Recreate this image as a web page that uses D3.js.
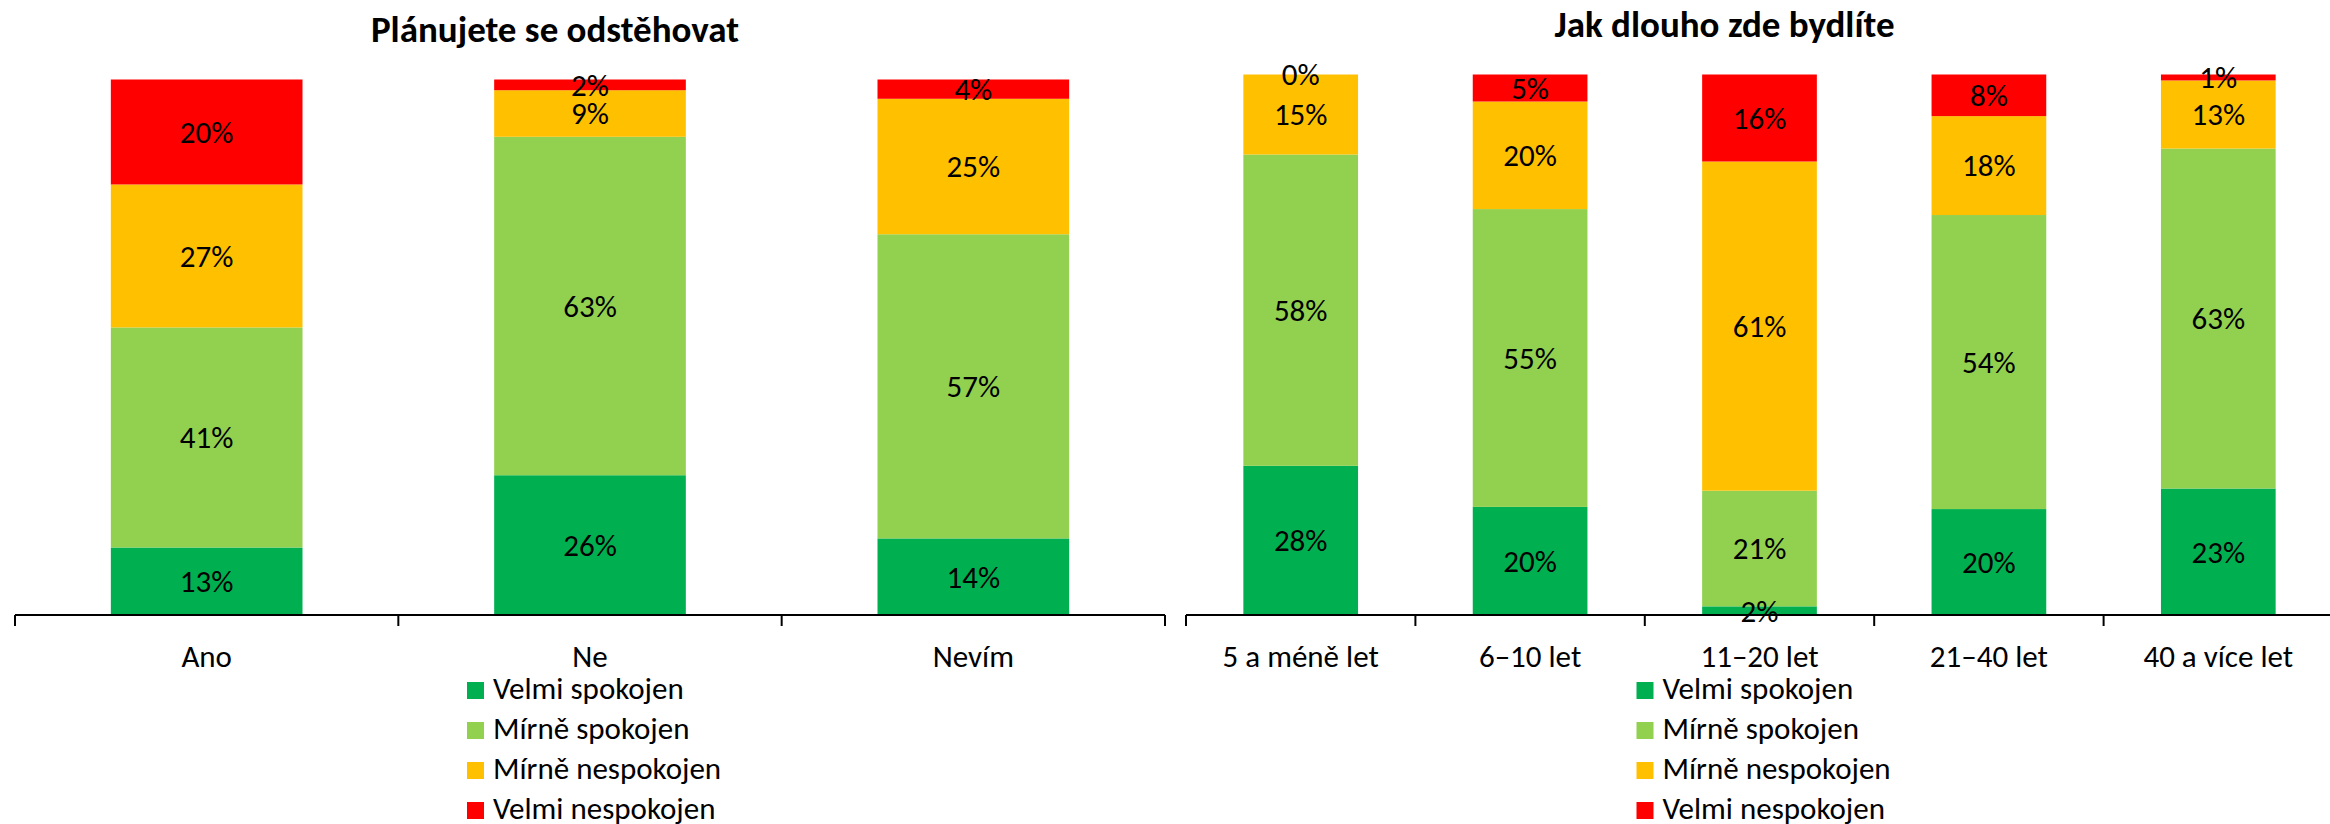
<!DOCTYPE html>
<html>
<head>
<meta charset="utf-8">
<script src="https://cdn.jsdelivr.net/npm/d3@7"></script>
<style>
  html, body { margin: 0; padding: 0; background: #ffffff; }
  svg { display: block; }
  text { font-family: Carlito, Calibri, Lato, "Open Sans", sans-serif; fill: #000; }
</style>
</head>
<body>
<svg id="chart" width="2330" height="824"></svg>
<script>
// ---------- data ----------
const seriesNames = ["Velmi spokojen", "Mírně spokojen", "Mírně nespokojen", "Velmi nespokojen"];
const seriesColors = ["#00B050", "#92D050", "#FFC000", "#FF0000"];

const titleA = "Plánujete se odstěhovat";
const categoriesA = ["Ano", "Ne", "Nevím"];
const velmiSpokojenA   = [12.6, 26.1, 14.3];
const mirneSpokojenA   = [41.1, 63.2, 56.8];
const mirneNespokojenA = [26.7, 8.7, 25.3];
const velmiNespokojenA = [19.6, 2.0, 3.6];

const titleB = "Jak dlouho zde bydlíte";
const categoriesB = ["5 a méně let", "6–10 let", "11–20 let", "21–40 let", "40 a více let"];
const velmiSpokojenB   = [27.6, 20.0, 1.6, 19.6, 23.4];
const mirneSpokojenB   = [57.6, 55.1, 21.4, 54.4, 62.9];
const mirneNespokojenB = [14.8, 19.9, 60.9, 18.3, 12.6];
const velmiNespokojenB = [0.0, 5.0, 16.1, 7.7, 1.1];

// ---------- drawing ----------
const svg = d3.select("#chart");
const FONT = 31;

function drawPanel(cfg) {
  const { title, categories, series, x0, x1, top, bottom } = cfg;
  const g = svg.append("g");

  const rows = categories.map((c, i) => {
    const r = { cat: c };
    seriesNames.forEach((s, k) => r[s] = series[k][i]);
    return r;
  });
  const stacked = d3.stack().keys(seriesNames)(rows);

  const x = d3.scaleBand().domain(categories).range([x0, x1])
    .paddingInner(0.5).paddingOuter(0.25);
  const y = d3.scaleLinear().domain([0, 100]).range([bottom, top]);

  // bars
  const layer = g.selectAll("g.layer").data(stacked).join("g")
    .attr("class", "layer")
    .attr("fill", (d, i) => seriesColors[i]);
  layer.selectAll("rect").data(d => d).join("rect")
    .attr("x", d => x(d.data.cat))
    .attr("width", x.bandwidth())
    .attr("y", d => y(d[1]))
    .attr("height", d => y(d[0]) - y(d[1]));

  // data labels
  const lab = g.selectAll("g.lab").data(stacked).join("g").attr("class", "lab");
  lab.selectAll("text").data(d => d).join("text")
    .attr("x", d => x(d.data.cat) + x.bandwidth() / 2)
    .attr("y", d => (y(d[0]) + y(d[1])) / 2)
    .attr("dy", "0.35em")
    .attr("text-anchor", "middle")
    .style("font-size", FONT + "px")
    .text(d => Math.round(d[1] - d[0]) + "%");

  // axis line & category boundary ticks
  const step = x.step();
  const bounds = d3.range(categories.length + 1).map(i => x0 + i * step);
  g.append("line")
    .attr("x1", x0).attr("x2", x1)
    .attr("y1", bottom).attr("y2", bottom)
    .attr("stroke", "#000").attr("stroke-width", 2.2);
  g.selectAll("line.tick").data(bounds).join("line")
    .attr("class", "tick")
    .attr("x1", d => d).attr("x2", d => d)
    .attr("y1", bottom).attr("y2", bottom + 11)
    .attr("stroke", "#000").attr("stroke-width", 2);

  // category labels
  g.selectAll("text.cat").data(categories).join("text")
    .attr("class", "cat")
    .attr("x", d => x(d) + x.bandwidth() / 2)
    .attr("y", bottom + 52)
    .attr("text-anchor", "middle")
    .style("font-size", FONT + "px")
    .text(d => d);

  // title
  const cx = (x0 + x1) / 2;
  g.append("text")
    .attr("x", cx - 35)
    .attr("y", top - 38)
    .attr("text-anchor", "middle")
    .style("font-size", "37px")
    .style("font-weight", "bold")
    .text(title);

  // legend
  const lg = g.append("g").attr("transform", `translate(${cx - 123},${bottom + 67})`);
  const item = lg.selectAll("g").data(seriesNames).join("g")
    .attr("transform", (d, i) => `translate(0,${i * 40})`);
  item.append("rect")
    .attr("width", 17).attr("height", 17)
    .attr("fill", (d, i) => seriesColors[i]);
  item.append("text")
    .attr("x", 26).attr("y", 17)
    .style("font-size", FONT + "px")
    .text(d => d);
}

drawPanel({
  title: titleA, categories: categoriesA,
  series: [velmiSpokojenA, mirneSpokojenA, mirneNespokojenA, velmiNespokojenA],
  x0: 15, x1: 1165, top: 79.5, bottom: 615
});
drawPanel({
  title: titleB, categories: categoriesB,
  series: [velmiSpokojenB, mirneSpokojenB, mirneNespokojenB, velmiNespokojenB],
  x0: 1186, x1: 2333, top: 74.5, bottom: 615
});
</script>
</body>
</html>
